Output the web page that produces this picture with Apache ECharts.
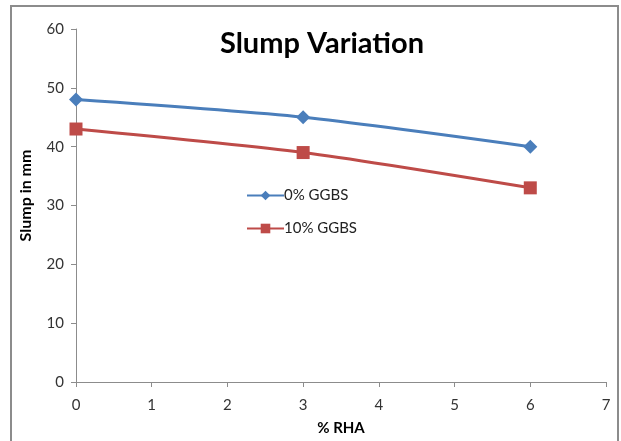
<!DOCTYPE html>
<html>
<head>
<meta charset="utf-8">
<script src="https://cdn.jsdelivr.net/npm/echarts@6/dist/echarts.min.js"></script>
<style>
  html, body { margin: 0; padding: 0; background: #fff; }
  #chart { width: 621px; height: 441px; }
</style>
</head>
<body>
<div id="chart"></div>
<script>
// data
const rhaPercent = [0, 3, 6]
const slump0 = [48, 45, 40]
const slump10 = [43, 39, 33]
const seriesNames = ['0% GGBS', '10% GGBS']

const chart = echarts.init(document.getElementById('chart'))
const font = 'Lato, "Open Sans", sans-serif'

const option = {
  animation: false,
  textStyle: { fontFamily: font },
  graphic: [{
    type: 'rect',
    shape: { x: 11, y: 6, width: 607, height: 460 },
    style: { fill: 'none', stroke: '#8c8c8c', lineWidth: 2 },
    silent: true
  }],
  title: {
    text: 'Slump Variation',
    left: 317,
    top: 24,
    textAlign: 'center',
    textStyle: { fontFamily: font, fontSize: 29, fontWeight: 'bold', color: '#000' }
  },
  legend: {
    orient: 'vertical',
    left: 241,
    top: 183,
    itemGap: 18,
    itemWidth: 37,
    itemHeight: 12,
    data: seriesNames,
    textStyle: { fontFamily: font, fontSize: 15, color: '#222', padding: [0, 0, 0, -5] }
  },
  grid: { left: 76, right: 15, top: 29, bottom: 58 },
  xAxis: {
    type: 'value',
    min: 0,
    max: 7,
    interval: 1,
    name: '% RHA',
    nameLocation: 'middle',
    nameGap: 39,
    nameTextStyle: { fontFamily: font, fontSize: 15, fontWeight: 'bold', color: '#000' },
    axisLine: { lineStyle: { color: '#8c8c8c', width: 1 } },
    axisTick: { show: true, length: 5, lineStyle: { color: '#8c8c8c' } },
    axisLabel: { fontSize: 15, color: '#333', margin: 16 },
    splitLine: { show: false }
  },
  yAxis: {
    type: 'value',
    min: 0,
    max: 60,
    interval: 10,
    name: 'Slump in mm',
    nameLocation: 'middle',
    nameGap: 42,
    nameTextStyle: { fontFamily: font, fontSize: 16, fontWeight: 'bold', color: '#000', padding: [0, 0, 0, 20] },
    axisLine: { show: true, lineStyle: { color: '#8c8c8c', width: 1 } },
    axisTick: { show: true, length: 5, lineStyle: { color: '#8c8c8c' } },
    axisLabel: { fontSize: 15, color: '#333', margin: 12 },
    splitLine: { show: false }
  },
  series: [
    {
      name: seriesNames[0],
      type: 'line',
      data: rhaPercent.map((x, i) => [x, slump0[i]]),
      smooth: 0.25,
      symbol: 'diamond',
      symbolSize: 14,
      lineStyle: { color: '#4a7ebb', width: 3 },
      itemStyle: { color: '#4a7ebb' }
    },
    {
      name: seriesNames[1],
      type: 'line',
      data: rhaPercent.map((x, i) => [x, slump10[i]]),
      smooth: 0.25,
      symbol: 'rect',
      symbolSize: 13,
      lineStyle: { color: '#be4b48', width: 3 },
      itemStyle: { color: '#be4b48' }
    }
  ]
}

chart.setOption(option)
</script>
</body>
</html>
